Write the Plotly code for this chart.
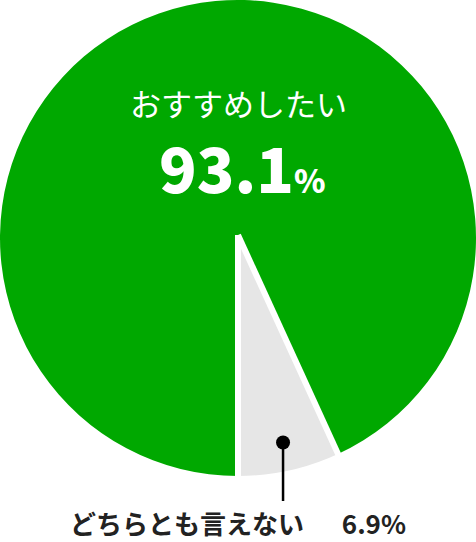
import math
import plotly.graph_objects as go

# Survey answer share (%)
labels = ["おすすめしたい", "どちらとも言えない"]
values = [93.1, 6.9]
colors = ["#00a800", "#e6e6e6"]

W, H = 476, 542
PIE_SIZE = 476  # pie occupies the top square of the canvas


def to_paper(px, py):
    """Convert pixel position (from top-left) to paper coords."""
    return px / W, 1 - py / H


fig = go.Figure(
    go.Pie(
        labels=labels,
        values=values,
        marker=dict(colors=colors, line=dict(width=0)),
        sort=False,
        direction="clockwise",
        rotation=180,
        textinfo="none",
        hoverinfo="skip",
        showlegend=False,
        domain=dict(x=[0, 1], y=[1 - PIE_SIZE / H, 1]),
    )
)

cx, cy, r = PIE_SIZE / 2, PIE_SIZE / 2, PIE_SIZE / 2
share = values[1] / sum(values)
slice_angle = math.radians(360 * share)  # small slice spans from 6 o'clock towards the right

# White separators between the two slices (no outline on the outer rim)
for a in (0, slice_angle):
    x0, y0 = to_paper(cx, cy - 3)
    x1, y1 = to_paper(cx + (r + 4) * math.sin(a), cy + (r + 4) * math.cos(a))
    fig.add_shape(type="line", xref="paper", yref="paper",
                  x0=x0, y0=y0, x1=x1, y1=y1,
                  line=dict(color="white", width=6))

# Leader for the small slice: dot on the bisector, line going down to the label
mid = slice_angle / 2
dot_x = cx + 0.88 * r * math.sin(mid)
dot_y = cy + 0.88 * r * math.cos(mid)
dx, dy = to_paper(dot_x, dot_y)
fig.add_shape(type="circle", xref="paper", yref="paper",
              x0=dx - 7 / W, x1=dx + 7 / W, y0=dy - 7 / H, y1=dy + 7 / H,
              fillcolor="black", line=dict(width=0))
lx, ly = to_paper(dot_x, 501)
fig.add_shape(type="line", xref="paper", yref="paper",
              x0=dx, x1=dx, y0=dy, y1=ly,
              line=dict(color="black", width=2.5))

jp_font = "Noto Sans CJK JP"

# Big label inside the green slice
tx, ty = to_paper(238, 102)
fig.add_annotation(x=tx, y=ty, xref="paper", yref="paper", showarrow=False,
                   xanchor="center", yanchor="middle",
                   text=labels[0],
                   font=dict(family=jp_font, size=31, color="white", weight=400))
tx, ty = to_paper(243, 166)
fig.add_annotation(x=tx, y=ty, xref="paper", yref="paper", showarrow=False,
                   xanchor="center", yanchor="middle",
                   text=f"{values[0]}<span style='font-size:32px'>%</span>",
                   font=dict(family=jp_font, size=62, color="white", weight=900))

# Label for the small slice below the pie
tx, ty = to_paper(238, 522)
fig.add_annotation(x=tx, y=ty, xref="paper", yref="paper", showarrow=False,
                   xanchor="center", yanchor="middle",
                   text=f"{labels[1]}\u3000  {values[1]}%",
                   font=dict(family=jp_font, size=26, color="#222222", weight=700))

fig.update_layout(
    width=W,
    height=H,
    margin=dict(l=0, r=0, t=0, b=0, pad=0),
    paper_bgcolor="white",
    plot_bgcolor="white",
)

fig.write_html("out.html", config={"displayModeBar": False},
               post_script="document.body.style.margin='0px';")
